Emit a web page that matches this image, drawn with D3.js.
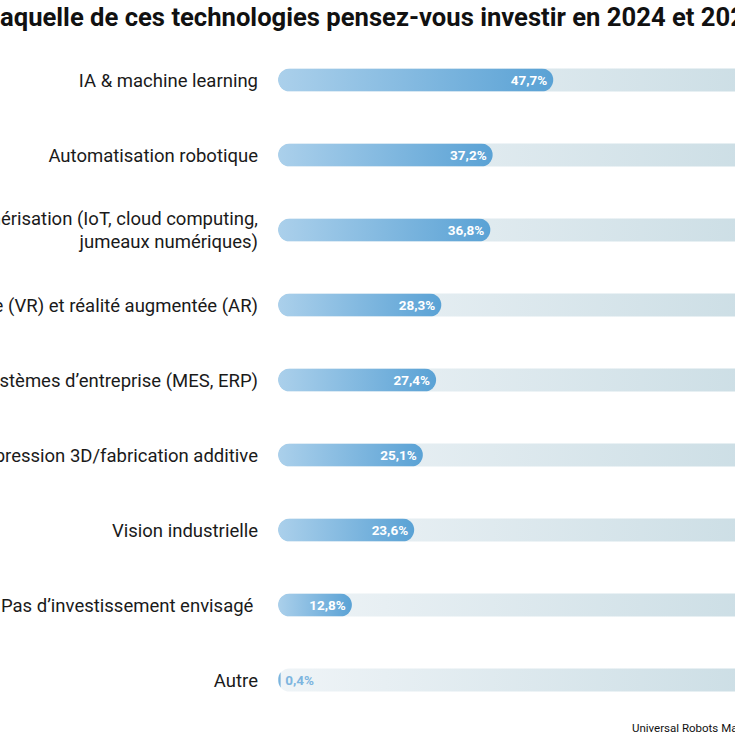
<!DOCTYPE html>
<html>
<head>
<meta charset="utf-8">
<script src="https://cdn.jsdelivr.net/npm/d3@7"></script>
<style>
  html, body { margin: 0; padding: 0; background: #fff; overflow: hidden; }
  text { font-family: Roboto, "Noto Sans", sans-serif; }
</style>
</head>
<body>
<svg id="chart"></svg>
<script>
// Données
const categories = [
  ["IA & machine learning"],
  ["Automatisation robotique"],
  ["Numérisation (IoT, cloud computing,", "jumeaux numériques)"],
  ["Réalité virtuelle (VR) et réalité augmentée (AR)"],
  ["Systèmes d’entreprise (MES, ERP)"],
  ["Impression 3D/fabrication additive"],
  ["Vision industrielle"],
  ["Pas d’investissement envisagé "],
  ["Autre"]
];
const values = [47.7, 37.2, 36.8, 28.3, 27.4, 25.1, 23.6, 12.8, 0.4];
const titleText = "Dans laquelle de ces technologies pensez-vous investir en 2024 et 2025 ?";
const sourceText = "Universal Robots Manufacturing Survey";

const W = 735, H = 735;
const svg = d3.select("#chart").attr("width", W).attr("height", H);

const keys = categories.map((c, i) => i);
const x = d3.scaleLinear().domain([0, 100]).range([278, 855]);
const y = d3.scalePoint().domain(keys).range([80, 680]);
const barH = 23;
const fmt = v => d3.format(".1f")(v).replace(".", ",") + "%";

// Dégradés
const defs = svg.append("defs");
const track = defs.append("linearGradient")
  .attr("id", "track").attr("gradientUnits", "userSpaceOnUse")
  .attr("x1", x(0)).attr("x2", x(100)).attr("y1", 0).attr("y2", 0);
track.append("stop").attr("offset", "0%").attr("stop-color", "#eff4f7");
track.append("stop").attr("offset", "100%").attr("stop-color", "#c4d9e1");

const bar = defs.append("linearGradient").attr("id", "bar");
bar.append("stop").attr("offset", "0%").attr("stop-color", "#abd0eb");
bar.append("stop").attr("offset", "100%").attr("stop-color", "#5aa2d5");

// clip = forme de la piste, pour les très petites barres
keys.forEach(i => {
  defs.append("clipPath").attr("id", "clip" + i)
    .append("rect")
    .attr("x", x(0)).attr("y", y(i) - barH / 2)
    .attr("width", x(100) - x(0)).attr("height", barH)
    .attr("rx", barH / 2);
});

// Titre (coupé à gauche comme dans l'original)
const title = svg.append("text")
  .attr("x", 0)
  .attr("y", 26)
  .style("font-family", "Roboto, 'Noto Sans', sans-serif")
  .style("font-weight", 700)
  .style("font-size", "26px")
  .style("fill", "#111")
  .text(titleText);

// ajuster pour que "aquelle … 202" occupe à peu près toute la largeur
const iStart = titleText.indexOf("aquelle");
const iEnd = titleText.lastIndexOf("202") + 2;
let fs = 26;
for (let k = 0; k < 3; k++) {
  const n = title.node();
  const span = n.getEndPositionOfChar(iEnd).x - n.getStartPositionOfChar(iStart).x;
  fs = fs * 745 / span;
  title.style("font-size", fs + "px");
}
title.attr("x", -title.node().getStartPositionOfChar(iStart).x);

const rows = svg.append("g").selectAll("g")
  .data(keys)
  .join("g");

// Pistes de fond
rows.append("rect")
  .attr("x", x(0))
  .attr("y", i => y(i) - barH / 2)
  .attr("width", x(100) - x(0))
  .attr("height", barH)
  .attr("rx", barH / 2)
  .attr("fill", "url(#track)");

// Barres
const bw = i => x(values[i]) - x(0);
rows.append("rect")
  .attr("clip-path", i => `url(#clip${i})`)
  .attr("x", x(0))
  .attr("y", i => y(i) - barH / 2)
  .attr("width", i => Math.max(bw(i), 2.5))
  .attr("height", barH)
  .attr("rx", i => bw(i) >= barH ? barH / 2 : 0)
  .attr("fill", "url(#bar)");

// Valeurs
const small = i => bw(i) < 40;
rows.append("text")
  .attr("x", i => small(i) ? x(values[i]) + 5 : x(values[i]) - 6)
  .attr("y", i => y(i))
  .attr("dy", "0.36em")
  .attr("text-anchor", i => small(i) ? "start" : "end")
  .style("font-size", "13.5px")
  .style("font-weight", 700)
  .style("fill", i => small(i) ? "#7db5df" : "#fff")
  .text(i => fmt(values[i]));

// Libellés
const labels = rows.append("text")
  .attr("text-anchor", "end")
  .attr("y", i => y(i))
  .style("font-size", "18.5px")
  .style("fill", "#1a1a1a")
  .style("white-space", "pre");

labels.each(function (i) {
  const lines = categories[i];
  const t = d3.select(this);
  lines.forEach((line, k) => {
    t.append("tspan")
      .attr("x", 258)
      .attr("y", y(i) + (k - (lines.length - 1) / 2) * 23)
      .attr("dy", "0.36em")
      .text(line);
  });
});

// Source
svg.append("text")
  .attr("x", 632)
  .attr("y", 732)
  .style("font-size", "11.5px")
  .style("fill", "#111")
  .text(sourceText);
</script>
</body>
</html>
